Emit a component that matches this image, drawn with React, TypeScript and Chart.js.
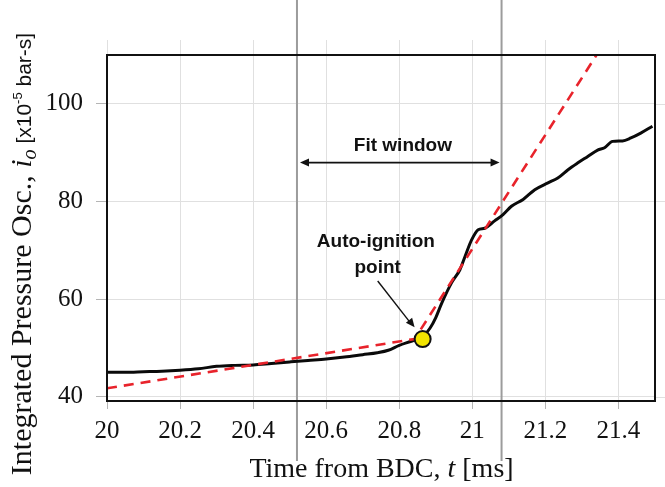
import React, { useEffect, useRef } from "react";
import { Chart, registerables } from "chart.js";

Chart.register(...registerables);

// ---- data ----
const timeMs = [
  20, 20.05, 20.1, 20.15, 20.2, 20.25, 20.3, 20.35, 20.4, 20.45, 20.5, 20.55, 20.6, 20.65, 20.7,
  20.74, 20.77, 20.8, 20.835, 20.865, 20.884, 20.9, 20.916, 20.943, 20.966, 20.98, 20.998,
  21.016, 21.034, 21.061, 21.084, 21.107, 21.139, 21.171, 21.207, 21.234, 21.262, 21.289,
  21.316, 21.343, 21.362, 21.384, 21.411, 21.434, 21.461, 21.493,
];
const ioValues = [
  45.0, 45.0, 45.1, 45.2, 45.4, 45.7, 46.2, 46.4, 46.5, 46.8, 47.1, 47.4, 47.7, 48.1, 48.6,
  49.0, 49.5, 50.5, 51.4, 52.3, 54.0, 56.2, 59.1, 63.3, 66.0, 68.7, 72.1,
  74.2, 74.5, 76.0, 77.3, 79.0, 80.4, 82.4, 83.8, 84.8, 86.5, 87.9,
  89.2, 90.5, 91.0, 92.3, 92.4, 93.0, 94.0, 95.4,
];
const fitTime = [20, 20.842, 21.34];
const fitValues = [41.7, 51.8, 110];
const ignitionTime = [20.864];
const ignitionValue = [51.8];
const windowBounds = [20.52, 21.08];
const xTickValues = [20, 20.2, 20.4, 20.6, 20.8, 21, 21.2, 21.4];
const yTickValues = [40, 60, 80, 100];
const xRange = [20, 21.5];
const yRange = [39.1, 110];
const fitWindowLabel = "Fit window";
const ignitionLabel = ["Auto-ignition", "point"];

const SERIF = '"Liberation Serif", "Times New Roman", serif';
const SANS = '"Liberation Sans", Arial, sans-serif';

function line(ctx: CanvasRenderingContext2D, x1: number, y1: number, x2: number, y2: number) {
  ctx.beginPath();
  ctx.moveTo(x1, y1);
  ctx.lineTo(x2, y2);
  ctx.stroke();
}

function arrowHead(ctx: CanvasRenderingContext2D, fx: number, fy: number, tx: number, ty: number) {
  const ang = Math.atan2(ty - fy, tx - fx);
  const len = 9;
  const w = 4;
  ctx.beginPath();
  ctx.moveTo(tx, ty);
  ctx.lineTo(tx - len * Math.cos(ang) + w * Math.sin(ang), ty - len * Math.sin(ang) - w * Math.cos(ang));
  ctx.lineTo(tx - len * Math.cos(ang) - w * Math.sin(ang), ty - len * Math.sin(ang) + w * Math.cos(ang));
  ctx.closePath();
  ctx.fill();
}

const overlayPlugin = {
  id: "overlay",
  beforeDatasetsDraw(chart: any) {
    const { ctx, chartArea: a, scales } = chart;
    const x = scales.x;
    const y = scales.y;
    ctx.save();
    ctx.strokeStyle = "#e0e0e0";
    ctx.lineWidth = 1;
    xTickValues.forEach((v) => {
      const px = Math.round(x.getPixelForValue(v)) + 0.5;
      line(ctx, px, 40, px, a.top);
    });
    yTickValues.forEach((v) => {
      const py = Math.round(y.getPixelForValue(v)) + 0.5;
      line(ctx, a.right, py, chart.width, py);
    });
    ctx.strokeStyle = "#9c9c9c";
    ctx.lineWidth = 2;
    windowBounds.forEach((v) => {
      const px = x.getPixelForValue(v);
      line(ctx, px, 0, px, 461);
    });
    ctx.restore();
  },
  afterDatasetsDraw(chart: any) {
    const { ctx, chartArea: a, scales } = chart;
    const x = scales.x;
    const y = scales.y;
    ctx.save();
    // plot frame
    ctx.strokeStyle = "#111";
    ctx.lineWidth = 2;
    ctx.strokeRect(a.left, a.top, a.right - a.left, a.bottom - a.top);

    // fit window arrow + label
    ctx.strokeStyle = "#111";
    ctx.fillStyle = "#111";
    ctx.lineWidth = 1.6;
    const ay = y.getPixelForValue(87.95);
    const ax1 = x.getPixelForValue(windowBounds[0]) + 3;
    const ax2 = x.getPixelForValue(windowBounds[1]) - 2;
    line(ctx, ax1 + 4, ay, ax2 - 4, ay);
    arrowHead(ctx, ax2, ay, ax1, ay);
    arrowHead(ctx, ax1, ay, ax2, ay);
    ctx.font = `bold 19px ${SANS}`;
    ctx.textAlign = "center";
    ctx.textBaseline = "middle";
    ctx.fillText(fitWindowLabel, x.getPixelForValue(20.81), y.getPixelForValue(91.3));

    // auto-ignition label + arrow
    ctx.fillText(ignitionLabel[0], x.getPixelForValue(20.736), y.getPixelForValue(71.7));
    ctx.fillText(ignitionLabel[1], x.getPixelForValue(20.741), y.getPixelForValue(66.5));
    const p1x = x.getPixelForValue(20.741);
    const p1y = y.getPixelForValue(63.7);
    const p2x = x.getPixelForValue(20.842);
    const p2y = y.getPixelForValue(54.2);
    ctx.lineWidth = 1.4;
    line(ctx, p1x, p1y, p2x - 3, p2y - 3);
    arrowHead(ctx, p1x, p1y, p2x, p2y);

    // x title
    const xt1 = "Time from BDC, ";
    const xt2 = "t";
    const xt3 = " [ms]";
    const fN = `28px ${SERIF}`;
    const fI = `italic 28px ${SERIF}`;
    ctx.textBaseline = "alphabetic";
    ctx.textAlign = "left";
    ctx.font = fN;
    const w1 = ctx.measureText(xt1).width;
    const w3 = ctx.measureText(xt3).width;
    ctx.font = fI;
    const w2 = ctx.measureText(xt2).width;
    let cx = 381.5 - (w1 + w2 + w3) / 2;
    const by = 476.5;
    ctx.font = fN;
    ctx.fillText(xt1, cx, by);
    cx += w1;
    ctx.font = fI;
    ctx.fillText(xt2, cx, by);
    cx += w2;
    ctx.font = fN;
    ctx.fillText(xt3, cx, by);

    // y title (rotated)
    const segs = [
      { t: "Integrated Pressure Osc., ", f: `30px ${SERIF}`, dy: 0 },
      { t: "i", f: `italic 30px ${SERIF}`, dy: 0 },
      { t: "o", f: `italic 20px ${SERIF}`, dy: 5 },
      { t: " [x10", f: `21px ${SANS}`, dy: 0 },
      { t: "-5", f: `13px ${SANS}`, dy: -9 },
      { t: " bar-s]", f: `21px ${SANS}`, dy: 0 },
    ];
    let total = 0;
    const widths = segs.map((s) => {
      ctx.font = s.f;
      const w = ctx.measureText(s.t).width;
      total += w;
      return w;
    });
    ctx.translate(31, 254);
    ctx.rotate(-Math.PI / 2);
    let tx = -total / 2;
    segs.forEach((s, i) => {
      ctx.font = s.f;
      ctx.fillText(s.t, tx, s.dy);
      tx += widths[i];
    });
    ctx.restore();
  },
};

export default function App() {
  const canvasRef = useRef<HTMLCanvasElement | null>(null);

  useEffect(() => {
    const canvas = canvasRef.current;
    if (!canvas) return;
    const chart = new Chart(canvas, {
      type: "line",
      data: {
        datasets: [
          {
            type: "scatter",
            data: ignitionTime.map((t, i) => ({ x: t, y: ignitionValue[i] })),
            pointRadius: 8,
            pointBackgroundColor: "#f2e400",
            pointBorderColor: "#111",
            pointBorderWidth: 2,
            showLine: false,
          },
          {
            data: fitTime.map((t, i) => ({ x: t, y: fitValues[i] })),
            borderColor: "#e8232b",
            borderWidth: 2.6,
            borderDash: [10, 7],
            pointRadius: 0,
            fill: false,
            tension: 0,
          },
          {
            data: timeMs.map((t, i) => ({ x: t, y: ioValues[i] })),
            borderColor: "#0a0a0a",
            borderWidth: 3,
            pointRadius: 0,
            fill: false,
            cubicInterpolationMode: "monotone",
          },
        ],
      } as any,
      options: {
        animation: false,
        responsive: false,
        maintainAspectRatio: false,
        layout: { padding: { top: 55, right: 7, left: 0, bottom: 0 } },
        plugins: { legend: { display: false }, tooltip: { enabled: false } },
        scales: {
          x: {
            type: "linear",
            min: xRange[0],
            max: xRange[1],
            afterBuildTicks: (s: any) => {
              s.ticks = xTickValues.map((v) => ({ value: v }));
            },
            afterFit: (s: any) => {
              s.height = 86;
            },
            grid: { color: "#e0e0e0", tickColor: "#b5b5b5", tickLength: 8, lineWidth: 1 },
            border: { display: false },
            ticks: {
              color: "#111",
              font: { family: SERIF, size: 25 },
              padding: 7,
              maxRotation: 0,
              autoSkip: false,
              callback: (v: any) => String(v),
            },
          },
          y: {
            type: "linear",
            min: yRange[0],
            max: yRange[1],
            afterBuildTicks: (s: any) => {
              s.ticks = yTickValues.map((v) => ({ value: v }));
            },
            afterFit: (s: any) => {
              s.width = 107;
            },
            grid: { color: "#e0e0e0", tickColor: "#b5b5b5", tickLength: 11, lineWidth: 1 },
            border: { display: false },
            ticks: {
              color: "#111",
              font: { family: SERIF, size: 25 },
              padding: 13,
              autoSkip: false,
              callback: (v: any) => String(v),
            },
          },
        },
      },
      plugins: [overlayPlugin],
    });
    return () => chart.destroy();
  }, []);

  return (
    <div style={{ position: "absolute", left: 0, top: 0, width: 665, height: 487, background: "#fff" }}>
      <canvas ref={canvasRef} width={665} height={487} style={{ width: 665, height: 487, display: "block" }} />
    </div>
  );
}
